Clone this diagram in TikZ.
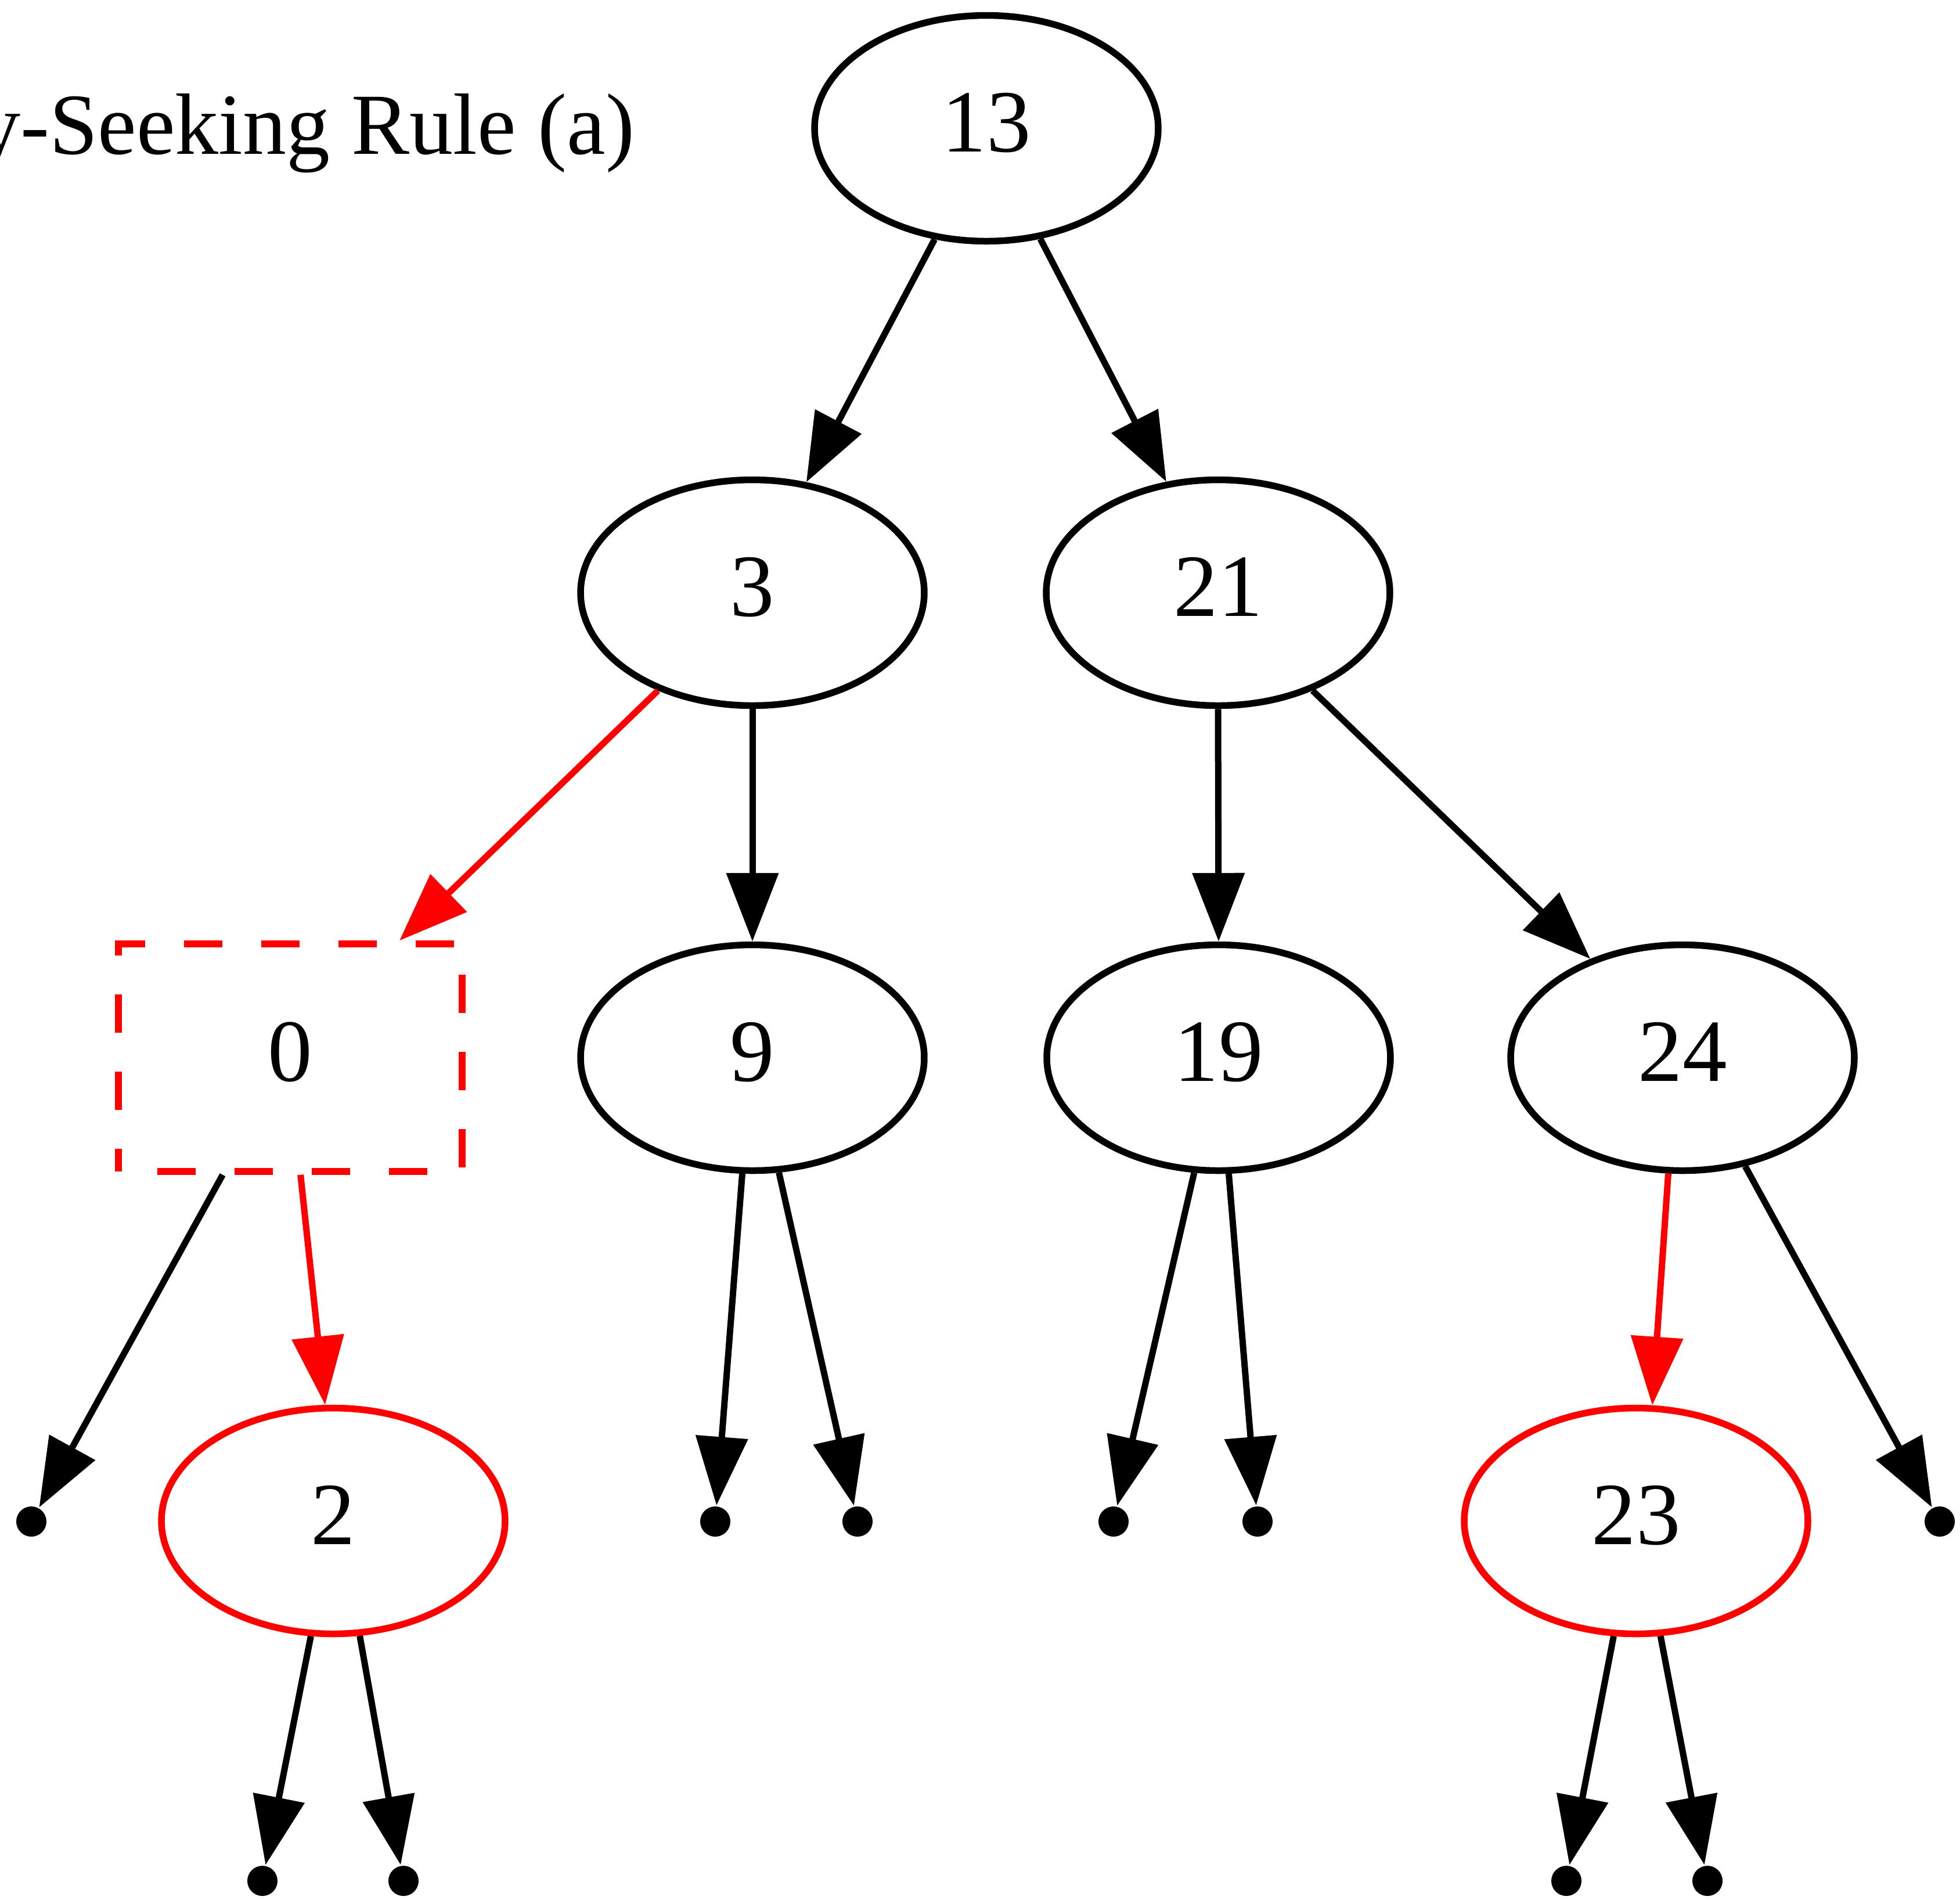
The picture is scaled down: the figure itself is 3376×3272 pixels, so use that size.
\documentclass[tikz,border=0pt]{standalone}
\usepackage{fontspec}
\setmainfont{Liberation Serif}
\usetikzlibrary{shapes.geometric,arrows.meta}
\begin{document}
\begin{tikzpicture}[x=0.1pt,y=-0.1pt,
  every node/.style={inner sep=0pt},
  lbl/.style={font=\fontsize{15.3pt}{18pt}\selectfont, text height=10.3pt, text depth=2.3pt},
  tnode/.style={lbl, ellipse, draw=black, line width=1.15pt, minimum width=59.2pt, minimum height=38.9pt},
  rnode/.style={tnode, draw=red},
  dbox/.style={lbl, rectangle, draw=red, line width=1.15pt, minimum width=59.2pt, minimum height=39.2pt,
    dash pattern=on 6.6pt off 6.7pt, dash phase=6.6pt},
  leaf/.style={circle, fill=black, minimum size=5.2pt},
  edge/.style={line width=1.1pt, -{Triangle[length=11.8pt,width=8.8pt]}},
  redge/.style={edge, draw=red, color=red}
]
\useasboundingbox (0,0) rectangle (3376,3272);
\clip (0,0) rectangle (3376,3272);

\node[font=\fontsize{15pt}{18pt}\selectfont, anchor=base east] (title) at (1095,265) {y-Seeking Rule (a)};

\node[tnode] (n13) at (1699,221) {13};
\node[tnode] (n3) at (1296,1021) {3};
\node[tnode] (n21) at (2098,1021) {21};
\node[dbox] (n0) at (500,1822) {0};
\node[tnode] (n9) at (1296,1822) {9};
\node[tnode] (n19) at (2099,1822) {19};
\node[tnode] (n24) at (2898,1822) {24};
\node[rnode] (n2) at (574,2620) {2};
\node[rnode] (n23) at (2818,2620) {23};

\node[leaf] (pA) at (54,2621) {};
\node[leaf] (pB) at (1232,2621) {};
\node[leaf] (pC) at (1477,2621) {};
\node[leaf] (pD) at (1918,2621) {};
\node[leaf] (pE) at (2166,2621) {};
\node[leaf] (pF) at (3341,2621) {};
\node[leaf] (pG) at (452,3240) {};
\node[leaf] (pH) at (695,3240) {};
\node[leaf] (pI) at (2698,3240) {};
\node[leaf] (pJ) at (2941,3240) {};

\draw[edge] (n13.-115.8) -- (n3.64.6);
\draw[edge] (n13.-64.7) -- (n21.115);
\draw[redge] (n3.226.6) -- (n0.47);
\draw[edge] (n3.south) -- (n9.north);
\draw[edge] (n21.south) -- (n19.north);
\draw[edge] (n21.-46.3) -- (n24.133.5);
\draw[edge] (n0.240) -- (pA);
\draw[redge] (n0.275) -- (n2.94);
\draw[edge] (n9.265) -- (pB);
\draw[edge] (n9.-77.3) -- (pC);
\draw[edge] (n19.-102.1) -- (pD);
\draw[edge] (n19.-85.1) -- (pE);
\draw[redge] (n24.263.8) -- (n23.82);
\draw[edge] (n24.-60.7) -- (pF);
\draw[edge] (n2.-101) -- (pG);
\draw[edge] (n2.-77.9) -- (pH);
\draw[edge] (n23.-101) -- (pI);
\draw[edge] (n23.-78.4) -- (pJ);
\end{tikzpicture}
\end{document}
